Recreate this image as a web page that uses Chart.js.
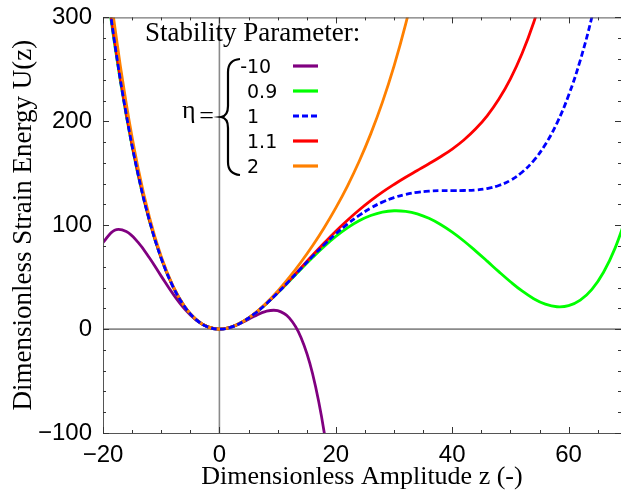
<!DOCTYPE html>
<html>
<head>
<meta charset="utf-8">
<script src="https://cdn.jsdelivr.net/npm/chart.js@4.4.1/dist/chart.umd.min.js"></script>
<style>
  html, body { margin: 0; padding: 0; background: #fff; }
  canvas { display: block; }
</style>
</head>
<body>
<canvas id="energyChart" width="621" height="497"></canvas>
<script>
// amplitude samples (z) shared by every curve
const zValues = [-20, -18, -16, -14, -12, -10, -8, -6, -4, -2, 0, 2, 4, 6, 8, 10, 12, 14, 16, 18,
  20, 22, 24, 26, 28, 30, 32, 34, 36, 38, 40, 42, 44, 46, 48, 50, 52, 54, 56, 58, 60, 62, 64, 66, 68, 70];

// strain energy, one list per eta (curves stop once they leave the frame)
const uEtaM10 = [83.3, 95.2, 93.9, 83.7, 68.4, 51.0, 34.1, 19.6, 8.7, 2.1, 0, 1.8, 6.5, 12.4, 17.1, 17.7,
  10.8, -7.8, -42.7, -99.2, -183.3];
const uEta09 = [355.8, 274.0, 205.5, 149.1, 103.7, 68.1, 41.1, 21.8, 9.1, 2.1, 0, 1.9, 7.0, 14.6, 24.0, 34.7,
  46.1, 57.7, 68.9, 79.6, 89.2, 97.5, 104.3, 109.3, 112.6, 113.9, 113.3, 110.9, 106.6, 100.7, 93.3, 84.8,
  75.3, 65.4, 55.3, 45.6, 36.7, 29.3, 24.0, 21.5, 22.5, 27.8, 38.2, 54.7, 78.2, 109.7];
const uEta1 = [358.3, 275.6, 206.5, 149.7, 104.0, 68.2, 41.2, 21.8, 9.1, 2.1, 0, 1.9, 7.0, 14.6, 24.1, 34.9,
  46.4, 58.3, 70.0, 81.2, 91.7, 101.1, 109.4, 116.5, 122.2, 126.6, 129.7, 131.7, 132.8, 133.3, 133.3, 133.4,
  133.9, 135.3, 138.2, 143.2, 151.0, 162.2, 177.7, 198.3, 225.0, 258.7, 300.4, 351.2];
const uEta11 = [360.8, 277.2, 207.5, 150.3, 104.4, 68.4, 41.2, 21.8, 9.1, 2.1, 0, 1.9, 7.0, 14.6, 24.2, 35.1,
  46.8, 58.9, 71.0, 82.8, 94.2, 104.8, 114.6, 123.6, 131.8, 139.2, 146.1, 152.6, 159.1, 165.9, 173.3, 182.0,
  192.5, 205.3, 221.2, 240.9, 265.2, 295.1, 331.4];
const uEta2 = [383.3, 292.0, 216.8, 155.7, 107.3, 69.8, 41.8, 22.0, 9.2, 2.1, 0, 1.9, 7.0, 14.8, 24.8, 36.5,
  49.7, 64.3, 80.2, 97.6, 116.7, 137.7, 161.3, 187.9, 218.2, 253.1, 293.5, 340.5];

const etaLabels = ['-10', '0.9', '1', '1.1', '2'];

const xTicks = [-20, 0, 20, 40, 60];
const yTicks = [-100, 0, 100, 200, 300];
const xMinorTicks = [-15, -10, -5, 5, 10, 15, 25, 30, 35, 45, 50, 55, 65];
const yMinorTicks = [-80, -60, -40, -20, 20, 40, 60, 80, 120, 140, 160, 180, 220, 240, 260, 280];

function toPoints(values) {
    return values.map((u, i) => ({ x: zValues[i], y: u }));
}

function minusSign(v) {
    return v < 0 ? '\u2212' + Math.abs(v) : String(v);
}

const tickFont = { family: 'Liberation Sans', size: 24 };

// frame with inward ticks, plus the zero axes under the curves
const framePlugin = {
    id: 'frame',
    beforeDatasetsDraw(chart) {
        const { ctx, chartArea: a, scales: { x, y } } = chart;
        const px = x.getPixelForValue(0);
        const py = y.getPixelForValue(0);
        ctx.save();
        ctx.strokeStyle = '#8a8a8a';
        ctx.lineWidth = 1.6;
        ctx.beginPath();
        ctx.moveTo(px, a.top);
        ctx.lineTo(px, a.bottom);
        ctx.moveTo(a.left, py);
        ctx.lineTo(a.right, py);
        ctx.stroke();
        ctx.restore();
    },
    afterDatasetsDraw(chart) {
        const { ctx, chartArea: a, scales: { x, y } } = chart;
        ctx.save();
        ctx.strokeStyle = '#555';
        ctx.lineWidth = 1;
        ctx.strokeRect(a.left + 0.5, a.top + 0.5, a.right - a.left, a.bottom - a.top);

        ctx.strokeStyle = '#333';
        ctx.beginPath();
        const xTick = (v, len) => {
            const p = Math.round(x.getPixelForValue(v)) + 0.5;
            ctx.moveTo(p, a.bottom);
            ctx.lineTo(p, a.bottom - len);
            ctx.moveTo(p, a.top);
            ctx.lineTo(p, a.top + len);
        };
        const yTick = (v, len) => {
            const p = Math.round(y.getPixelForValue(v)) + 0.5;
            ctx.moveTo(a.left, p);
            ctx.lineTo(a.left + len, p);
            ctx.moveTo(a.right, p);
            ctx.lineTo(a.right - len, p);
        };
        xTicks.forEach(v => xTick(v, 6));
        xMinorTicks.forEach(v => xTick(v, 3));
        yTicks.forEach(v => yTick(v, 6));
        yMinorTicks.forEach(v => yTick(v, 3));
        ctx.stroke();
        ctx.restore();
    }
};

// the bracketed "Stability Parameter" legend
const legendPlugin = {
    id: 'etaLegend',
    afterDraw(chart) {
        const ctx = chart.ctx;
        ctx.save();
        ctx.fillStyle = '#000';
        ctx.textBaseline = 'alphabetic';
        ctx.font = '27px "Liberation Serif"';
        ctx.fillText('Stability Parameter:', 145, 41);

        ctx.font = '26px "Liberation Serif"';
        ctx.fillText('\u03b7', 182, 118);
        ctx.textBaseline = 'middle';
        ctx.textAlign = 'right';
        ctx.fillText('=', 214, 117);

        // curly brace
        ctx.strokeStyle = '#000';
        ctx.lineWidth = 2.2;
        ctx.beginPath();
        ctx.moveTo(240, 59);
        ctx.quadraticCurveTo(228, 60, 228, 72);
        ctx.lineTo(228, 106);
        ctx.quadraticCurveTo(228, 116, 221, 117);
        ctx.quadraticCurveTo(228, 118, 228, 128);
        ctx.lineTo(228, 162);
        ctx.quadraticCurveTo(228, 174, 240, 175);
        ctx.stroke();

        ctx.font = '19px "DejaVu Sans"';
        ctx.textAlign = 'left';
        ctx.textBaseline = 'alphabetic';
        const rowStep = 25;
        chart.data.datasets.forEach((ds, i) => {
            const label = etaLabels[i];
            const base = 73 + i * rowStep;
            let tx = 247;
            if (label.startsWith('-')) tx -= ctx.measureText('-').width;
            ctx.fillText(label, tx, base);

            ctx.strokeStyle = ds.borderColor;
            ctx.lineWidth = 3.2;
            ctx.setLineDash(ds.borderDash || []);
            ctx.beginPath();
            ctx.moveTo(293, base - 7);
            ctx.lineTo(318, base - 7);
            ctx.stroke();
            ctx.setLineDash([]);
        });
        ctx.restore();
    }
};

const ctx = document.getElementById('energyChart').getContext('2d');

const curveStyle = {
    fill: false,
    pointRadius: 0,
    borderWidth: 2.8,
    tension: 0.4,
    clip: 0
};

const chart = new Chart(ctx, {
    type: 'line',
    data: {
        datasets: [
            { ...curveStyle, label: '-10', data: toPoints(uEtaM10), borderColor: '#800080', order: 4 },
            { ...curveStyle, label: '0.9', data: toPoints(uEta09), borderColor: '#00ff00', order: 3 },
            { ...curveStyle, label: '1', data: toPoints(uEta1), borderColor: '#0000ff', borderDash: [6, 3], order: 0 },
            { ...curveStyle, label: '1.1', data: toPoints(uEta11), borderColor: '#ff0000', order: 2 },
            { ...curveStyle, label: '2', data: toPoints(uEta2), borderColor: '#ff8000', order: 1 }
        ]
    },
    options: {
        responsive: false,
        animation: false,
        devicePixelRatio: 1,
        layout: { padding: { top: 14, left: 0, right: 0, bottom: 0 } },
        elements: { line: { capBezierPoints: false } },
        plugins: {
            legend: { display: false },
            tooltip: { enabled: false }
        },
        scales: {
            x: {
                type: 'linear',
                min: -20,
                max: 69,
                afterBuildTicks: scale => { scale.ticks = xTicks.map(v => ({ value: v })); },
                afterFit: scale => { scale.height = 64; },
                grid: { display: false },
                border: { display: false },
                ticks: {
                    font: tickFont,
                    color: '#000',
                    padding: 0,
                    maxRotation: 0,
                    callback: v => minusSign(v)
                },
                title: {
                    display: true,
                    text: 'Dimensionless Amplitude z (-)',
                    color: '#000',
                    font: { family: 'Liberation Serif', size: 26 },
                    padding: { top: 0, bottom: 4 }
                }
            },
            y: {
                type: 'linear',
                min: -100,
                max: 300,
                afterBuildTicks: scale => { scale.ticks = yTicks.map(v => ({ value: v })); },
                afterFit: scale => { scale.width = 103; },
                grid: { display: false },
                border: { display: false },
                ticks: {
                    font: tickFont,
                    color: '#000',
                    padding: 3,
                    callback: v => minusSign(v)
                },
                title: {
                    display: true,
                    text: 'Dimensionless Strain Energy U(z)',
                    color: '#000',
                    font: { family: 'Liberation Serif', size: 27 },
                    padding: { top: 8, bottom: 0 }
                }
            }
        }
    },
    plugins: [framePlugin, legendPlugin]
});
</script>
</body>
</html>
